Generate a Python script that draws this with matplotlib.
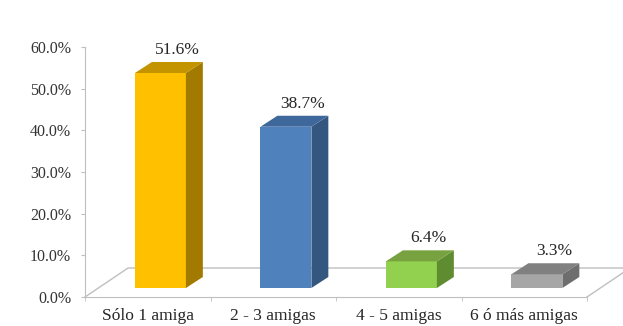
import matplotlib
matplotlib.use('Agg')
import matplotlib.pyplot as plt
from matplotlib.patches import Polygon
from matplotlib.ticker import FixedLocator

# data
categories = ['Sólo 1 amiga', '2 - 3 amigas', '4 - 5 amigas', '6 ó más amigas']
values = [51.6, 38.7, 6.4, 3.3]
labels = ['51.6%', '38.7%', '6.4%', '3.3%']
front_colors = ['#FFC000', '#4F81BD', '#92D050', '#A6A6A6']
top_colors = ['#C49400', '#3E679C', '#77A23F', '#808080']
side_colors = ['#A37A00', '#34577F', '#5F8C31', '#6E6E6E']

plt.rcParams['font.family'] = ['Liberation Serif', 'DejaVu Serif']

fig = plt.figure(figsize=(6.23, 3.26), dpi=100)
ax = fig.add_axes([85/623, 29/326, 502/623, 250/326])
ax.set_xlim(0, 4)
ax.set_ylim(0, 60)

# fake 3d geometry (data units)
floor_dx, floor_dy = 0.343, 6.96     # full depth of the floor
bar_dx, bar_dy = 0.135, 2.64         # depth of each bar
bar_x0, bar_y0 = 0.398, 2.16         # front face offset inside the slot
bar_w = 0.406
grid_col = '#BFBFBF'

# floor
ax.plot([0, floor_dx, 4 + floor_dx], [0, floor_dy, floor_dy], color=grid_col, lw=1, clip_on=False)
ax.plot([4, 4 + floor_dx], [0, floor_dy], color=grid_col, lw=1, clip_on=False)

for i, v in enumerate(values):
    x0 = i + bar_x0
    x1 = x0 + bar_w
    y0 = bar_y0
    y1 = bar_y0 + v
    # front face
    ax.bar(x0, v, bottom=y0, width=bar_w, align='edge', color=front_colors[i], zorder=3)
    # side face
    ax.add_patch(Polygon([(x1, y0), (x1 + bar_dx, y0 + bar_dy), (x1 + bar_dx, y1 + bar_dy), (x1, y1)],
                         closed=True, facecolor=side_colors[i], edgecolor='none', zorder=3))
    # top face
    ax.add_patch(Polygon([(x0, y1), (x1, y1), (x1 + bar_dx, y1 + bar_dy), (x0 + bar_dx, y1 + bar_dy)],
                         closed=True, facecolor=top_colors[i], edgecolor='none', zorder=3))
    ax.annotate(labels[i], (x0 + bar_w/2 + bar_dx, y1 + bar_dy), xytext=(0, 3), textcoords='offset points',
                ha='center', va='bottom', fontsize=12.5, color='#262626', zorder=4)

# axes
for s in ['top', 'right']:
    ax.spines[s].set_visible(False)
for s in ['left', 'bottom']:
    ax.spines[s].set_color(grid_col)
ax.set_yticks(range(0, 61, 10))
ax.set_yticklabels(['%.1f%%' % t for t in range(0, 61, 10)])
ax.tick_params(axis='y', length=3, color=grid_col, pad=7, labelsize=11.5, labelcolor='#333333')

ax.set_xticks([i + 0.5 for i in range(4)])
ax.set_xticklabels(categories)
ax.xaxis.set_minor_locator(FixedLocator(range(5)))
ax.tick_params(axis='x', which='major', length=0, pad=8, labelsize=12.5, labelcolor='#262626')
ax.tick_params(axis='x', which='minor', length=3, color=grid_col)
ax.patch.set_alpha(0)

fig.savefig('out.png', dpi=100)
